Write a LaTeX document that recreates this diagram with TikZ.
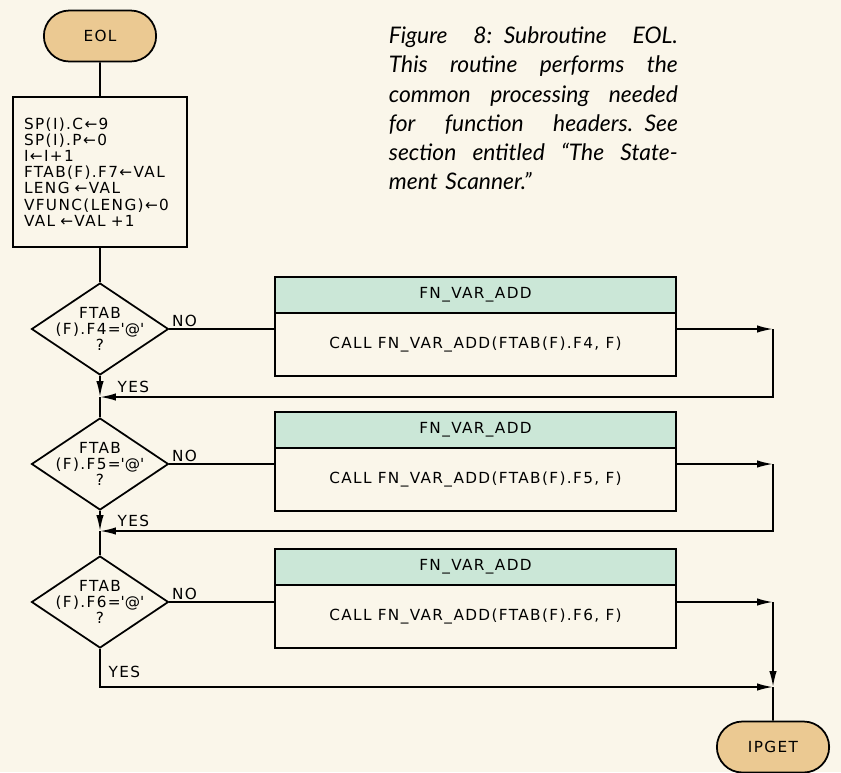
\documentclass[tikz,border=0pt]{standalone}
\usepackage{fontspec}
\setmainfont{DejaVu Sans}
\newfontfamily\flowfont[LetterSpace=9]{DejaVu Sans}
\newfontfamily\capfont[Ligatures=TeX]{Lato}
\usetikzlibrary{shapes.geometric,shapes.misc,arrows.meta,positioning}

\definecolor{paper}{HTML}{FAF6EA}
\definecolor{tan}{HTML}{EBC992}
\definecolor{mint}{HTML}{CBE7D7}

\newcommand{\capline}[1]{\leavevmode\hbox to 5.78cm{\spaceskip=0.25em plus 1fil minus 0.05em\relax #1}}
\newcommand{\qq}{\textquotesingle}

\begin{document}
\begin{tikzpicture}[
    x=0.02cm, y=-0.02cm,
    line width=1pt,
    every node/.style={font=\flowfont\fontsize{8.7}{9.2}\selectfont},
    terminal/.style={rounded rectangle, draw, fill=tan, minimum width=2.48cm, minimum height=1.02cm},
    setbox/.style={rectangle, draw, fill=paper, text width=3.04cm, inner xsep=0.22cm, align=left, minimum height=3.0cm},
    decision/.style={diamond, draw, fill=paper, minimum width=2.74cm, minimum height=1.84cm, inner sep=0pt},
    header/.style={rectangle, draw, fill=mint, outer sep=0pt, minimum width=8.02cm, minimum height=0.72cm},
    call/.style={rectangle, draw, fill=paper, outer sep=0pt, minimum width=8.02cm, minimum height=1.26cm},
    lbl/.style={inner sep=1pt},
    arrow/.style={-{Latex[length=3.2mm,width=1.5mm]}}
]

% Background and page size
\fill[paper] (0,0) rectangle (841,772);
\useasboundingbox (0,0) rectangle (841,772);

% Caption
\node[anchor=north west, inner sep=0pt, text width=5.78cm, align=left,
      font=\capfont\itshape\fontsize{13}{16.6}\selectfont] (caption) at (388,26)
    {\capline{Figure 8: Subroutine EOL.}\\
     \capline{This routine performs the}\\
     \capline{common processing needed}\\
     \capline{for function headers. See}\\
     \capline{section entitled ``The State-}\\
     ment Scanner.''};

% Entry and set-up
\node[terminal] (eol) at (100,36) {EOL};
\node[setbox] (setup) at (100,172)
    {SP(I).C←9\\SP(I).P←0\\I←I+1\\FTAB(F).F7←VAL\\LENG ←VAL\\VFUNC(LENG)←0\\VAL ←VAL +1};

% Decisions
\node[decision] (ftab4) at (100,329) {};
\node[align=center] (ftab4txt) at (ftab4) {FTAB\\(F).F4=\qq @\qq\\?};
\node[decision] (ftab5) at (100,464) {};
\node[align=center] (ftab5txt) at (ftab5) {FTAB\\(F).F5=\qq @\qq\\?};
\node[decision] (ftab6) at (100,602) {};
\node[align=center] (ftab6txt) at (ftab6) {FTAB\\(F).F6=\qq @\qq\\?};

% Calls
\node[header] (hdr4) at (475.5,295) {FN\_VAR\_ADD};
\node[call, below=0pt of hdr4] (call4) {CALL FN\_VAR\_ADD(FTAB(F).F4, F)};
\node[header] (hdr5) at (475.5,430) {FN\_VAR\_ADD};
\node[call, below=0pt of hdr5] (call5) {CALL FN\_VAR\_ADD(FTAB(F).F5, F)};
\node[header] (hdr6) at (475.5,567) {FN\_VAR\_ADD};
\node[call, below=0pt of hdr6] (call6) {CALL FN\_VAR\_ADD(FTAB(F).F6, F)};

% Exit
\node[terminal] (ipget) at (773,747) {IPGET};

% Joins
\coordinate (j4) at (100,397);
\coordinate (j5) at (100,531);
\coordinate (r4) at (773,329);
\coordinate (r5) at (773,464);
\coordinate (r6) at (773,602);
\coordinate (j6) at (773,687);

% Arrows
\draw (eol) -- (setup);
\draw (setup) -- (ftab4);

\draw (ftab4.east) -- node[lbl, pos=0, above right] (no4) {NO} (ftab4.east -| call4.west);
\draw[arrow] (ftab4.east -| call4.east) -- (r4);
\draw[arrow] (r4) |- (j4);
\draw[arrow] (ftab4.south) -- node[lbl, right=0.3cm] (yes4) {YES} (j4);
\draw (j4) -- (ftab5.north);

\draw (ftab5.east) -- node[lbl, pos=0, above right] (no5) {NO} (ftab5.east -| call5.west);
\draw[arrow] (ftab5.east -| call5.east) -- (r5);
\draw[arrow] (r5) |- (j5);
\draw[arrow] (ftab5.south) -- node[lbl, right=0.3cm] (yes5) {YES} (j5);
\draw (j5) -- (ftab6.north);

\draw (ftab6.east) -- node[lbl, pos=0, above right] (no6) {NO} (ftab6.east -| call6.west);
\draw[arrow] (ftab6.east -| call6.east) -- (r6);
\draw[arrow] (r6) -- (j6);
\draw[arrow] (ftab6.south) |- node[lbl, pos=0.3, right=0.12cm] (yes6) {YES} (j6);
\draw (j6) -- (ipget);

\end{tikzpicture}
\end{document}
